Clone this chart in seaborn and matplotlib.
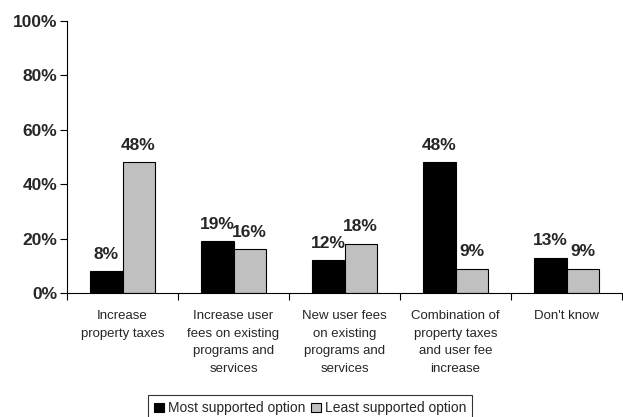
import pandas as pd
import matplotlib.pyplot as plt
import seaborn as sns

categories = [
    "Increase\nproperty taxes",
    "Increase user\nfees on existing\nprograms and\nservices",
    "New user fees\non existing\nprograms and\nservices",
    "Combination of\nproperty taxes\nand user fee\nincrease",
    "Don't know",
]
most_supported = [8, 19, 12, 48, 13]
least_supported = [48, 16, 18, 9, 9]
series_names = ["Most supported option", "Least supported option"]
y_ticks = [0, 20, 40, 60, 80, 100]

df = pd.DataFrame({
    "category": categories * 2,
    "value": most_supported + least_supported,
    "series": [series_names[0]] * 5 + [series_names[1]] * 5,
})

sns.set_style("white")
plt.rcParams["font.family"] = ["Liberation Sans", "DejaVu Sans"]

fig = plt.figure(figsize=(6.23, 4.17), dpi=100)
ax = fig.add_axes([67 / 623, 124 / 417, 555 / 623, 272 / 417])

sns.barplot(data=df, x="category", y="value", hue="series",
            palette=["#000000", "#c0c0c0"], width=0.58, gap=0,
            edgecolor="black", linewidth=0.8, ax=ax, legend=False)

# value labels
for cont in ax.containers:
    ax.bar_label(cont, labels=[f"{int(round(b.get_height()))}%" for b in cont],
                 padding=7, fontsize=12.5, fontweight="bold")

ax.set_ylim(0, 100)
ax.set_xlim(-0.5, len(categories) - 0.5)
ax.set_yticks(y_ticks)
ax.set_yticklabels([f"{v}%" for v in y_ticks], fontsize=12.5, fontweight="bold")
ax.set_xticks(range(len(categories)))
ax.set_xticklabels(categories, fontsize=9.5, linespacing=1.65, va="top")
ax.set_xticks([i - 0.5 for i in range(len(categories) + 1)], minor=True)
ax.tick_params(axis="x", which="major", length=0, pad=12)
ax.tick_params(axis="x", which="minor", length=5, width=0.8, color="black", direction="out", bottom=True)
ax.tick_params(axis="y", length=5, width=0.8, color="black", direction="out", left=True, pad=2)
ax.set_xlabel("")
ax.set_ylabel("")

for s in ["top", "right"]:
    ax.spines[s].set_visible(False)
for s in ["left", "bottom"]:
    ax.spines[s].set_color("black")
    ax.spines[s].set_linewidth(0.8)

handles = [plt.Rectangle((0, 0), 1, 1, facecolor=c, edgecolor="black", linewidth=0.8)
           for c in ["#000000", "#c0c0c0"]]
leg = fig.legend(handles, series_names, loc="upper center", bbox_to_anchor=(310 / 623, 1 - 395 / 417),
                 ncol=2, fontsize=10, frameon=True, fancybox=False,
                 handlelength=0.7, handleheight=0.7, handletextpad=0.3,
                 columnspacing=0.4, borderpad=0.45, borderaxespad=0)
leg.get_frame().set_edgecolor("black")
leg.get_frame().set_linewidth(0.8)

fig.savefig("out.png", dpi=100)
